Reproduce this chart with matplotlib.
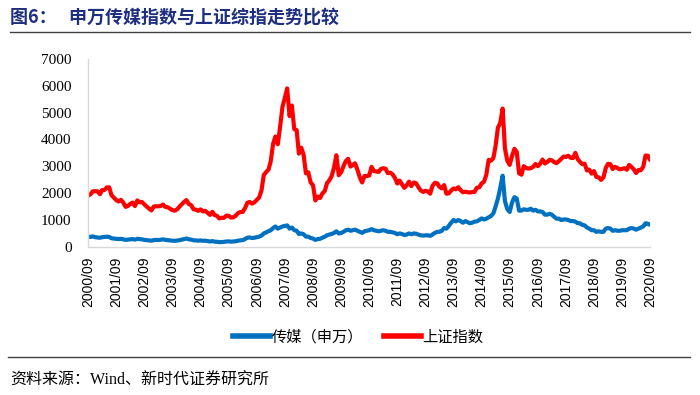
import pandas as pd
import matplotlib
matplotlib.use("Agg")
import matplotlib.pyplot as plt
import matplotlib.dates as mdates
from matplotlib.lines import Line2D

plt.rcParams['font.family'] = ['Liberation Serif', 'Noto Sans CJK SC', 'DejaVu Sans']

# monthly data, 2000/09 - 2020/09
dates = pd.date_range("2000-09-01", "2020-09-01", freq="MS")

media = [
    380, 370, 390, 360,
    350, 340, 360, 370, 380, 370, 320, 310, 300, 290, 300, 280,
    260, 270, 280, 290, 270, 300, 290, 280, 260, 250, 240, 230,
    250, 260, 255, 265, 280, 260, 250, 240, 230, 225, 235, 250,
    270, 290, 310, 280, 270, 245, 240, 230, 240, 225, 230, 215,
    200, 215, 195, 190, 175, 180, 185, 200, 205, 195, 200, 210,
    230, 245, 250, 290, 340, 350, 330, 340, 360, 380, 420, 500,
    540, 580, 620, 700, 760, 680, 720, 760, 780, 800, 680, 720,
    620, 600, 480, 500, 470, 380, 380, 330, 310, 260, 290, 300,
    340, 380, 430, 460, 480, 520, 580, 500, 520, 560, 620, 640,
    600, 620, 640, 600, 560, 520, 580, 600, 620, 660, 620, 600,
    580, 600, 620, 600, 560, 560, 540, 520, 470, 500, 480, 440,
    460, 500, 470, 500, 490, 460, 430, 420, 430, 430, 410, 460,
    520, 560, 560, 600, 700, 680, 780, 900, 1000, 950, 1000, 960,
    900, 960, 920, 880, 900, 940, 950, 1000, 1060, 1020, 1050, 1100,
    1150, 1250, 1500, 1800, 2200, 2650, 1700, 1400, 1300, 1650, 1850, 1800,
    1350, 1350, 1400, 1380, 1380, 1420, 1350, 1380, 1320, 1320, 1300, 1200,
    1200, 1230, 1200, 1120, 1050, 1050, 1000, 1020, 1020, 1000, 960, 960,
    940, 880, 880, 820, 800, 720, 680, 620, 620, 560, 580, 560,
    560, 680, 700, 680, 600, 620, 600, 600, 620, 620, 620, 680,
    700, 680, 640, 680, 720, 760, 880, 860, 820,
]

sse = [
    1910, 1961, 2070, 2073,
    2066, 1960, 2112, 2120, 2214, 2218, 1920, 1834, 1741, 1690, 1750, 1646,
    1490, 1525, 1600, 1650, 1520, 1730, 1660, 1670, 1580, 1500, 1430, 1357,
    1500, 1512, 1510, 1521, 1576, 1487, 1477, 1421, 1367, 1348, 1397, 1497,
    1590, 1675, 1742, 1595, 1555, 1400, 1386, 1342, 1396, 1320, 1340, 1266,
    1191, 1306, 1181, 1159, 1060, 1080, 1083, 1162, 1155, 1092, 1099, 1161,
    1258, 1299, 1298, 1440, 1641, 1672, 1612, 1658, 1752, 1837, 2099, 2675,
    2786, 2881, 3183, 3841, 4109, 3820, 4471, 5218, 5552, 5900, 4871, 5262,
    4383, 4348, 3472, 3693, 3433, 2736, 2775, 2397, 2293, 1729, 1871, 1821,
    1991, 2082, 2373, 2477, 2633, 2959, 3412, 2667, 2779, 2996, 3195, 3277,
    2989, 3051, 3110, 2871, 2592, 2398, 2638, 2638, 2656, 2979, 2820, 2808,
    2790, 2905, 2928, 2911, 2743, 2762, 2701, 2568, 2359, 2468, 2333, 2199,
    2292, 2428, 2262, 2396, 2372, 2225, 2103, 2047, 2086, 2068, 1980, 2269,
    2385, 2365, 2236, 2178, 2300, 1979, 1993, 2098, 2174, 2141, 2220, 2116,
    2033, 2056, 2033, 2026, 2039, 2048, 2202, 2217, 2364, 2420, 2683, 3235,
    3210, 3310, 3748, 4442, 4612, 5150, 3664, 3206, 3053, 3383, 3650, 3539,
    2738, 2688, 3004, 2938, 2917, 2930, 2979, 3085, 3005, 3100, 3250, 3104,
    3159, 3242, 3223, 3155, 3117, 3192, 3273, 3361, 3349, 3393, 3317, 3307,
    3500, 3259, 3169, 3082, 3095, 2847, 2876, 2725, 2821, 2603, 2588, 2494,
    2585, 2941, 3091, 3078, 2899, 2979, 2933, 2886, 2905, 2929, 2872, 3050,
    2977, 2880, 2750, 2860, 2852, 2985, 3400, 3396, 3230,
]

tick_dates = pd.date_range("2000-09-01", "2020-09-01", freq="12MS")

blue = '#0070C0'
red = '#FF0000'
cjk = ['Noto Sans CJK SC', 'DejaVu Sans']

fig = plt.figure(figsize=(7, 3.95), dpi=100)
ax = fig.add_axes([0.126, 0.375, 0.803, 0.476])

ax.plot(dates, media, color=blue, lw=3, solid_capstyle='round')
ax.plot(dates, sse, color=red, lw=3, solid_capstyle='round')

ax.set_ylim(0, 7000)
ax.set_yticks(range(0, 7001, 1000))
ax.set_xlim(dates[0], dates[-1])
ax.set_xticks(tick_dates)
ax.xaxis.set_major_formatter(mdates.DateFormatter('%Y/%m'))
for lab in ax.get_xticklabels():
    lab.set_rotation(90)
    lab.set_family(['Liberation Sans', 'DejaVu Sans'])
ax.tick_params(axis='x', labelsize=10, length=0, pad=7)
ax.tick_params(axis='y', labelsize=11, length=0, pad=12)

for s in ['top', 'right']:
    ax.spines[s].set_visible(False)
for s in ['left', 'bottom']:
    ax.spines[s].set_color('#d9d9d9')
    ax.spines[s].set_linewidth(1)

# title and rules
fig.text(0.014, 0.957, '图6：   申万传媒指数与上证综指走势比较', family=cjk,
         fontsize=13, fontweight='bold', color='#1F2F7F', va='center')
fig.add_artist(Line2D([0.014, 0.986], [0.919, 0.919], color='#404040', lw=1))
fig.add_artist(Line2D([0.012, 0.986], [0.097, 0.097], color='#404040', lw=1))
fig.text(0.014, 0.035, '资料来源：Wind、新时代证券研究所',
         family=['Liberation Serif', 'Noto Sans CJK SC'], fontsize=11.5, va='center')

handles = [Line2D([], [], color=blue, lw=4), Line2D([], [], color=red, lw=4)]
leg = fig.legend(handles, ['传媒（申万）', '上证指数'], loc='center',
                 bbox_to_anchor=(0.512, 0.147), ncol=2, frameon=False,
                 handlelength=2.4, handletextpad=0.1, columnspacing=1.4,
                 prop={'family': cjk, 'size': 11})

fig.savefig('out.png', dpi=100)
